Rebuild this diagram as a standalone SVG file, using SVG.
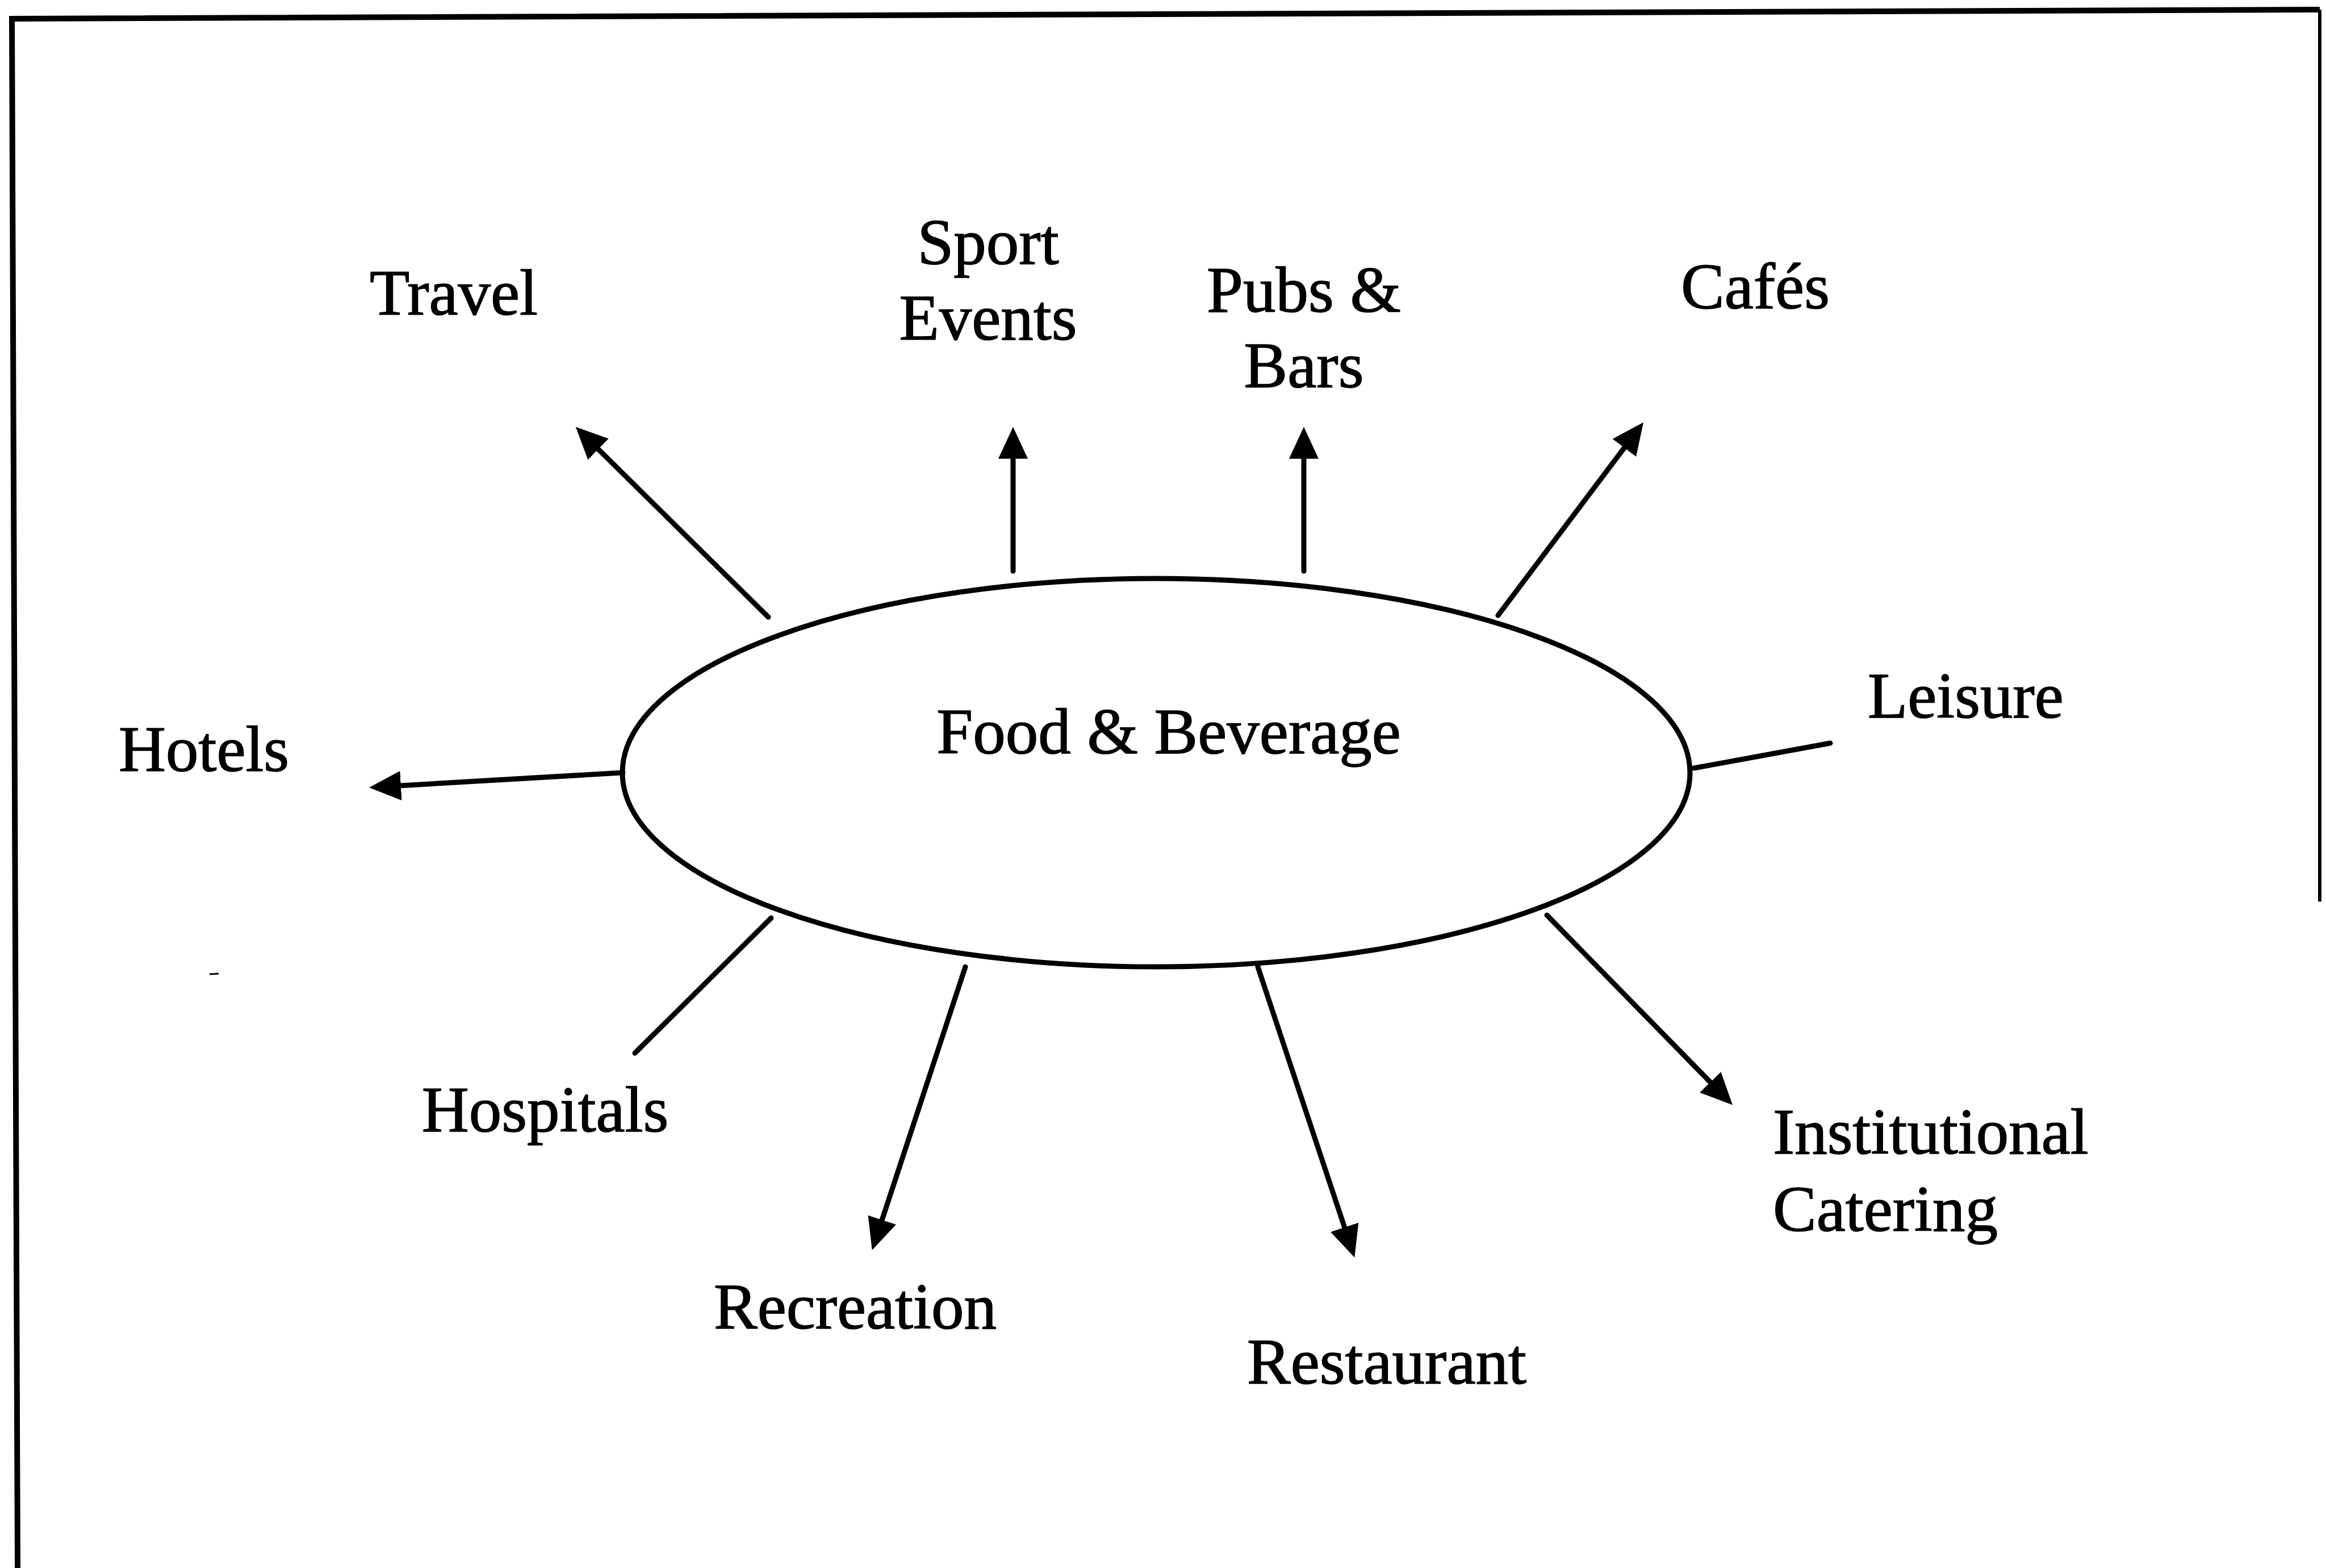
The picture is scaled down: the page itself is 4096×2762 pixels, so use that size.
<svg xmlns="http://www.w3.org/2000/svg" width="4096" height="2762" viewBox="0 0 4096 2762">
<style>
.lbl{font-family:"Liberation Serif","Times New Roman",serif;font-size:115px;fill:#000;stroke:#000;stroke-width:1.5}
.mid{text-anchor:middle}
.conn{stroke:#000;stroke-width:9;fill:none;stroke-linecap:round}
.frame{stroke:#000;stroke-width:10;fill:none}
</style>
<defs>
<marker id="arr" markerUnits="userSpaceOnUse" markerWidth="60" markerHeight="56" refX="36" refY="26" orient="auto">
<path d="M0,0 L56,26 L0,52 Z" fill="#000"/>
</marker>
</defs>
<rect width="4096" height="2762" fill="#fff"/>
<g id="frame">
<polyline class="frame" points="31,2762 21,33 4085,17"/>
<line x1="4085" y1="17" x2="4085" y2="1588" stroke="#000" stroke-width="6"/>
<line x1="369" y1="1716" x2="385" y2="1715" stroke="#000" stroke-width="3"/>
</g>
<g id="connectors">
<line class="conn" x1="1353" y1="1087" x2="1028" y2="766" marker-end="url(#arr)"/>
<line class="conn" x1="1784" y1="1006" x2="1784" y2="772" marker-end="url(#arr)"/>
<line class="conn" x1="2296" y1="1006" x2="2296" y2="772" marker-end="url(#arr)"/>
<line class="conn" x1="2638" y1="1084" x2="2882" y2="760" marker-end="url(#arr)"/>
<line class="conn" x1="2983" y1="1353" x2="3223" y2="1309"/>
<line class="conn" x1="1097" y1="1361" x2="670" y2="1386" marker-end="url(#arr)"/>
<line class="conn" x1="1358" y1="1617" x2="1118" y2="1855"/>
<line class="conn" x1="1700" y1="1703" x2="1542" y2="2183" marker-end="url(#arr)"/>
<line class="conn" x1="2215" y1="1703" x2="2379" y2="2196" marker-end="url(#arr)"/>
<line class="conn" x1="2724" y1="1612" x2="3037" y2="1932" marker-end="url(#arr)"/>
</g>
<g id="food-beverage">
<ellipse cx="2036" cy="1361" rx="940" ry="342" fill="none" stroke="#000" stroke-width="9"/>
<text class="lbl mid" x="2058" y="1327">Food &amp; Beverage</text>
</g>
<g id="travel"><text class="lbl mid" x="799" y="554">Travel</text></g>
<g id="sport-events"><text class="lbl mid" x="1740" y="465">Sport</text><text class="lbl mid" x="1740" y="598">Events</text></g>
<g id="pubs-bars"><text class="lbl mid" x="2296" y="549">Pubs &amp;</text><text class="lbl mid" x="2296" y="682">Bars</text></g>
<g id="cafes"><text class="lbl mid" x="3091" y="543">Cafés</text></g>
<g id="leisure"><text class="lbl" x="3289" y="1264">Leisure</text></g>
<g id="hotels"><text class="lbl mid" x="359" y="1358">Hotels</text></g>
<g id="hospitals"><text class="lbl mid" x="960" y="1993">Hospitals</text></g>
<g id="recreation"><text class="lbl mid" x="1506" y="2340">Recreation</text></g>
<g id="restaurant"><text class="lbl mid" x="2442" y="2437">Restaurant</text></g>
<g id="institutional-catering"><text class="lbl" x="3122" y="2032">Institutional</text><text class="lbl" x="3122" y="2168">Catering</text></g>
</svg>
